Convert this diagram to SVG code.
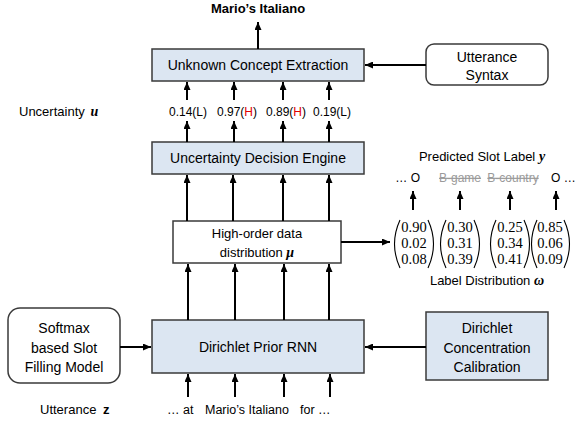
<svg xmlns="http://www.w3.org/2000/svg" width="575" height="427" viewBox="0 0 575 427">
<defs>
<marker id="ah" markerUnits="userSpaceOnUse" markerWidth="8" markerHeight="7" refX="8" refY="3.5" orient="auto">
<path d="M0,0 L8,3.5 L0,7 z" fill="#000"/>
</marker>
<style>
.box{fill:#dce6f2;stroke:#3a3a3a;stroke-width:1.5}
.wbox{fill:#fff;stroke:#3a3a3a;stroke-width:1.5}
.t{font-family:"Liberation Sans",Arial,sans-serif;font-size:14px;fill:#000;text-anchor:middle}
.s{font-family:"Liberation Sans",Arial,sans-serif;font-size:12px;fill:#000}
.m{font-family:"Liberation Serif","Times New Roman",serif;font-size:14.5px;fill:#000;text-anchor:middle}
.math{font-family:"Liberation Serif","Times New Roman",serif;font-weight:bold;font-style:italic}
.gray{fill:#9a9a9a;text-decoration:line-through}
.red{fill:#e00000}
.c line{stroke:#000;stroke-width:2;marker-end:url(#ah)}
.paren{fill:none;stroke:#000;stroke-width:1.1}
</style>
</defs>

<g id="title">
<text class="t" x="258" y="13" style="font-size:13px;font-weight:bold">Mario’s Italiano</text>
</g>

<g id="uce">
<rect class="box" x="152" y="49" width="212" height="32"/>
<text class="t" x="258" y="70">Unknown Concept Extraction</text>
</g>

<g id="syntax">
<rect class="wbox" x="426" y="44" width="122" height="41" rx="8"/>
<text class="t" x="487" y="62">Utterance</text>
<text class="t" x="487" y="80">Syntax</text>
</g>

<g id="uncertainty-label">
<text class="s" x="19" y="116" style="font-size:13px">Uncertainty <tspan class="math" dx="2" style="font-size:14px">u</tspan></text>
</g>

<g id="uncertainty-values">
<text class="s" x="188" y="116" text-anchor="middle">0.14(L)</text>
<text class="s" x="237" y="116" text-anchor="middle">0.97(<tspan class="red">H</tspan>)</text>
<text class="s" x="286" y="116" text-anchor="middle">0.89(<tspan class="red">H</tspan>)</text>
<text class="s" x="332" y="116" text-anchor="middle">0.19(L)</text>
</g>

<g id="ude">
<rect class="box" x="152" y="142" width="212" height="32"/>
<text class="t" x="258" y="163">Uncertainty Decision Engine</text>
</g>

<g id="hodd">
<rect class="wbox" x="173" y="221" width="168" height="42"/>
<text class="t" x="257" y="238" style="font-size:13px">High-order data</text>
<text class="t" x="257" y="257" style="font-size:13px">distribution <tspan class="math" style="font-size:14px">μ</tspan></text>
</g>

<g id="rnn">
<rect class="box" x="152" y="320" width="212" height="53"/>
<text class="t" x="258" y="352">Dirichlet Prior RNN</text>
</g>

<g id="softmax">
<rect class="wbox" x="8" y="308" width="112" height="75" rx="12"/>
<text class="t" x="64" y="333">Softmax</text>
<text class="t" x="64" y="353">based Slot</text>
<text class="t" x="64" y="372">Filling Model</text>
</g>

<g id="dcc">
<rect class="box" x="426" y="312" width="122" height="68"/>
<text class="t" x="487" y="333">Dirichlet</text>
<text class="t" x="487" y="353">Concentration</text>
<text class="t" x="487" y="372">Calibration</text>
</g>

<g id="utterance">
<text class="s" x="40" y="414" style="font-size:13px">Utterance <tspan dx="3" font-weight="bold">z</tspan></text>
<text class="s" x="167" y="414" style="font-size:12.5px">… at</text>
<text class="s" x="205" y="414" style="font-size:12.5px">Mario’s Italiano</text>
<text class="s" x="300" y="414" style="font-size:12.5px">for …</text>
</g>

<g id="predicted-labels">
<text class="s" x="482" y="161" text-anchor="middle" style="font-size:13px">Predicted Slot Label <tspan class="math" style="font-size:14px">y</tspan></text>
<text class="s" x="420" y="182" text-anchor="end">… O</text>
<text class="s gray" x="460" y="182" text-anchor="middle">B-game</text>
<text class="s gray" x="513" y="182" text-anchor="middle">B-country</text>
<text class="s" x="551" y="182">O …</text>
</g>

<g id="label-distribution">
<path class="paren" d="M400,220 Q389,244 400,268"/>
<path class="paren" d="M428,220 Q439,244 428,268"/>
<text class="m" x="414" y="232">0.90</text>
<text class="m" x="414" y="248">0.02</text>
<text class="m" x="414" y="264">0.08</text>
<path class="paren" d="M446,220 Q435,244 446,268"/>
<path class="paren" d="M474,220 Q485,244 474,268"/>
<text class="m" x="460" y="232">0.30</text>
<text class="m" x="460" y="248">0.31</text>
<text class="m" x="460" y="264">0.39</text>
<path class="paren" d="M496,220 Q485,244 496,268"/>
<path class="paren" d="M524,220 Q535,244 524,268"/>
<text class="m" x="510" y="232">0.25</text>
<text class="m" x="510" y="248">0.34</text>
<text class="m" x="510" y="264">0.41</text>
<path class="paren" d="M537,220 Q526,244 537,268"/>
<path class="paren" d="M564,220 Q575,244 564,268"/>
<text class="m" x="550" y="232">0.85</text>
<text class="m" x="550" y="248">0.06</text>
<text class="m" x="550" y="264">0.09</text>
<text class="s" x="487" y="285" text-anchor="middle" style="font-size:13px">Label Distribution <tspan class="math" style="font-size:14px">ω</tspan></text>
</g>

<g id="connectors" class="c">
<line x1="258" y1="49" x2="258" y2="22"/>
<line x1="426" y1="65" x2="365" y2="65"/>
<line x1="187" y1="100" x2="187" y2="82"/>
<line x1="234" y1="100" x2="234" y2="82"/>
<line x1="283" y1="100" x2="283" y2="82"/>
<line x1="329" y1="100" x2="329" y2="82"/>
<line x1="187" y1="142" x2="187" y2="121"/>
<line x1="234" y1="142" x2="234" y2="121"/>
<line x1="283" y1="142" x2="283" y2="121"/>
<line x1="329" y1="142" x2="329" y2="121"/>
<line x1="187" y1="221" x2="187" y2="175"/>
<line x1="233" y1="221" x2="233" y2="175"/>
<line x1="283" y1="221" x2="283" y2="175"/>
<line x1="329" y1="221" x2="329" y2="175"/>
<line x1="188" y1="320" x2="188" y2="264"/>
<line x1="235" y1="320" x2="235" y2="264"/>
<line x1="284" y1="320" x2="284" y2="264"/>
<line x1="329" y1="320" x2="329" y2="264"/>
<line x1="188" y1="397" x2="188" y2="374"/>
<line x1="235" y1="397" x2="235" y2="374"/>
<line x1="284" y1="397" x2="284" y2="374"/>
<line x1="330" y1="397" x2="330" y2="374"/>
<line x1="120" y1="347" x2="151" y2="347"/>
<line x1="426" y1="347" x2="365" y2="347"/>
<line x1="341" y1="242" x2="390" y2="242"/>
<line x1="413" y1="210" x2="413" y2="191"/>
<line x1="460" y1="210" x2="460" y2="191"/>
<line x1="510" y1="210" x2="510" y2="191"/>
<line x1="556" y1="210" x2="556" y2="191"/>
</g>
</svg>
